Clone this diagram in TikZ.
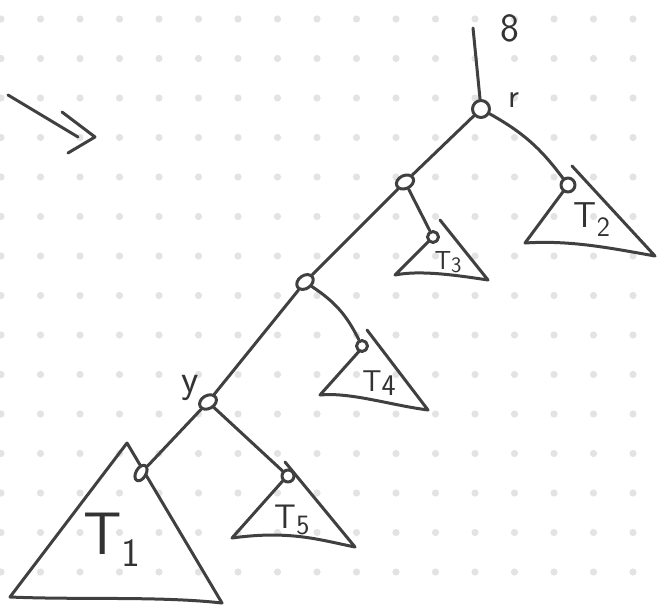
\documentclass[tikz,border=0pt]{standalone}
\usetikzlibrary{shapes.geometric}

\tikzset{
    pen/.style={draw=black!75, line width=3pt, line cap=round, line join=round},
    vtx/.style={pen, ellipse, fill=white, inner sep=0pt, minimum width=18pt, minimum height=13pt},
    leaf/.style={pen, circle, fill=white, inner sep=0pt, minimum size=12pt},
    lab/.style={text=black!80, font=\sffamily}
}
\newcommand{\tsub}[2]{T\raisebox{-#1}{#2}}

\begin{document}
\begin{tikzpicture}[x=1pt, y=-1pt]
    \useasboundingbox (0,0) rectangle (660,607);
    % dot grid
    \foreach \i in {0,...,16}
        \foreach \j in {0,...,14}
            \fill[black!11] ({1+39.5*\i},{19+39.5*\j}) circle (3.6pt);

    % arrow on the left
    \draw[pen] (8,95) -- (78,137);
    \draw[pen] (62,112) -- (95,137) -- (68,153);

    % subtrees
    \draw[pen] (127,443) -- (10,597) .. controls (80,600) and (160,596) .. (222,603) -- cycle;
    \draw[pen] (572,166) -- (655,256)
        .. controls (610,248) and (570,240) .. (525,243) -- (568,185);
    \draw[pen] (440,220) -- (488,280)
        .. controls (455,275) and (420,270) .. (395,275) -- (433,237);
    \draw[pen] (367,330) -- (428,410)
        .. controls (390,405) and (350,392) .. (320,395) -- (362,348);
    \draw[pen] (285,462) -- (355,547)
        .. controls (320,540) and (290,530) .. (232,538) -- (288,475);

    % tree nodes
    \node[leaf, minimum size=17pt] (root) at (481,109) {};
    \node[vtx, rotate=25] (a) at (405,182) {};
    \node[vtx, rotate=35] (b) at (305,282) {};
    \node[vtx, rotate=30] (y) at (208,402) {};
    \node[vtx, rotate=60, minimum width=17pt, minimum height=10pt] (n1) at (141,473) {};
    \node[leaf, minimum size=14pt] (n2) at (568,185) {};
    \node[leaf, minimum size=11pt] (n3) at (433,237) {};
    \node[leaf, minimum size=11pt] (n4) at (362,346) {};
    \node[leaf, minimum size=12pt] (n5) at (288,476) {};
    \coordinate (top) at (473,28);

    % edges
    \draw[pen] (root) -- (top);
    \draw[pen] (root) -- (a);
    \draw[pen] (root) to[bend left=12] (n2);
    \draw[pen] (a) -- (b);
    \draw[pen] (a) -- (n3);
    \draw[pen] (b) -- (y);
    \draw[pen] (b) to[bend left=15] (n4);
    \draw[pen] (y) -- (n1);
    \draw[pen] (y) -- (n5);

    % labels
    \node[lab, font=\sffamily\fontsize{40}{40}\selectfont] (lg) at (510,28) {8};
    \node[lab, font=\sffamily\fontsize{34}{34}\selectfont] (lr) at (514,100) {r};
    \node[lab, font=\sffamily\fontsize{40}{40}\selectfont] (ly) at (190,388) {y};
    \node[lab, font=\sffamily\fontsize{60}{60}\selectfont] (l1) at (112,540) {\tsub{12pt}{\fontsize{40}{40}\selectfont 1}};
    \node[lab, font=\sffamily\fontsize{36}{36}\selectfont] (l2) at (592,220) {\tsub{9pt}{\fontsize{28}{28}\selectfont 2}};
    \node[lab, font=\sffamily\fontsize{26}{26}\selectfont] (l3) at (448,262) {\tsub{3pt}{\fontsize{22}{22}\selectfont 3}};
    \node[lab, font=\sffamily\fontsize{30}{30}\selectfont] (l4) at (379,383) {\tsub{4pt}{4}};
    \node[lab, font=\sffamily\fontsize{34}{34}\selectfont] (l5) at (292,520) {\tsub{6pt}{\fontsize{28}{28}\selectfont 5}};
\end{tikzpicture}
\end{document}
